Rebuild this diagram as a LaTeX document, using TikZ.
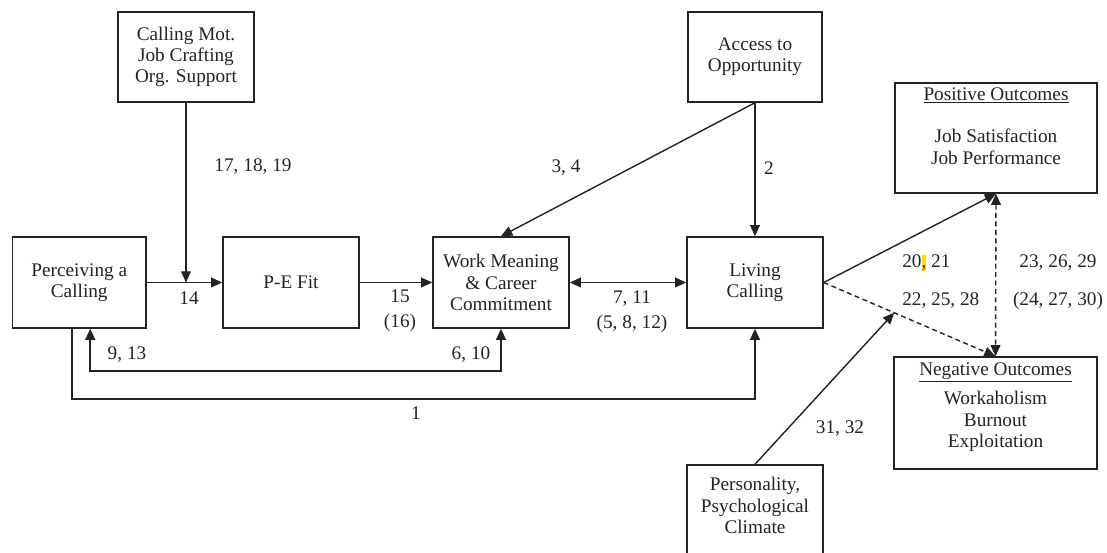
\documentclass[tikz,border=0pt]{standalone}
\usepackage{fontspec}
\setmainfont{Liberation Serif}
\usepackage{xcolor}
\usetikzlibrary{arrows.meta,calc}
\definecolor{ink}{RGB}{35,35,35}
\definecolor{hilite}{RGB}{255,222,0}

\begin{document}
\begin{tikzpicture}[x=0.025cm, y=-0.025cm,
    >={Triangle[length=8pt,width=7pt]},
    every node/.style = {font=\fontsize{13.7}{15.2}\selectfont, text=ink},
    box/.style = {shape=rectangle, draw=ink, line width=1pt, inner sep=0pt,
      minimum width=3.4cm, minimum height=2.275cm, align=center},
    num/.style = {align=center, inner sep=0pt},
    arr/.style = {draw=ink, line width=1pt, ->},
    thk/.style = {draw=ink, line width=1.5pt},
    dsh/.style = {draw=ink, line width=1pt, dash pattern=on 3.5pt off 2.5pt}]
    \useasboundingbox (0,0) rectangle (1107,553);

    % boxes
    \node[box, minimum width=3.34cm] (perc) at (79.25,282.5) {Perceiving a\\Calling};
    \node[box] (fit) at (291,282.5) {P-E Fit};
    \node[box] (mean) at (501,282.5) {Work Meaning\\\& Career\\Commitment};
    \node[box] (living) at (755,282.5) {Living\\Calling};
    \node[box, minimum height=2.25cm] (mot) at (186,57) {Calling Mot.\\Job Crafting\\Org. Support};
    \node[box, minimum width=3.35cm, minimum height=2.25cm] (access) at (755,57) {Access to\\Opportunity};
    \node[box, minimum width=5.05cm, minimum height=2.75cm] (pos) at (996,138) {};
    \node[num, anchor=north] (postext) at (996,87)
        {\underline{Positive Outcomes}\\[15.2pt]Job Satisfaction\\Job Performance};
    \node[box, minimum width=5.075cm, minimum height=2.8cm] (neg) at (995.5,413) {};
    \node[num, anchor=north] (negtext) at (995.5,362)
        {\underline{Negative Outcomes}\\[6pt]Workaholism\\Burnout\\Exploitation};
    \node[box, minimum height=2.5cm] (pers) at (755,515) {};
    \node[num, anchor=north] (perstext) at (755,477) {Personality,\\Psychological\\Climate};

    % paths
    \draw[arr] (perc) -- (fit);
    \draw[arr] (fit) -- (mean);
    \draw[arr, <->] (mean) -- (living);
    \draw[arr] (mot) -- (mot |- perc.east);
    \draw[arr] (access) -- (living);
    \draw[arr] (access.south) -- (mean.north);
    \draw[arr] (living.east) -- (pos.south);
    \draw[dsh, ->] (living.east) -- coordinate[pos=0.41] (mod) (neg.north);
    \draw[dsh, <->] (pos.south) -- (neg.north);
    \draw[arr] (pers.north) -- (mod);
    \draw[thk, <->] (mean.south) -- ++(0,42) -| ($(perc.south)+(11,0)$);
    \draw[thk, ->] ($(perc.south)+(-7,0)$) -- ++(0,70) -| (living.south);

    % numbers
    \node[num] (n17) at (253,167) {17, 18, 19};
    \node[num] (n14) at (189,298) {14};
    \node[num] (n15) at (400,311) {15\\[2.5pt](16)};
    \node[num] (n9) at (127,355) {9, 13};
    \node[num] (n6) at (471,355) {6, 10};
    \node[num] (n1) at (416,413) {1};
    \node[num] (n3) at (566,168) {3, 4};
    \node[num] (n2) at (769,168) {2};
    \node[num] (n7) at (632,312) {7, 11\\[2.5pt](5, 8, 12)};
    \node[num, anchor=west] (n20) at (902,263) {20{\fboxsep=0pt\colorbox{hilite}{\vphantom{2},}} 21};
    \node[num, anchor=west] (n22) at (902,301) {22, 25, 28};
    \node[num] (n23) at (1058,263) {23, 26, 29};
    \node[num] (n24) at (1058,301) {(24, 27, 30)};
    \node[num] (n31) at (840,429) {31, 32};
\end{tikzpicture}
\end{document}
